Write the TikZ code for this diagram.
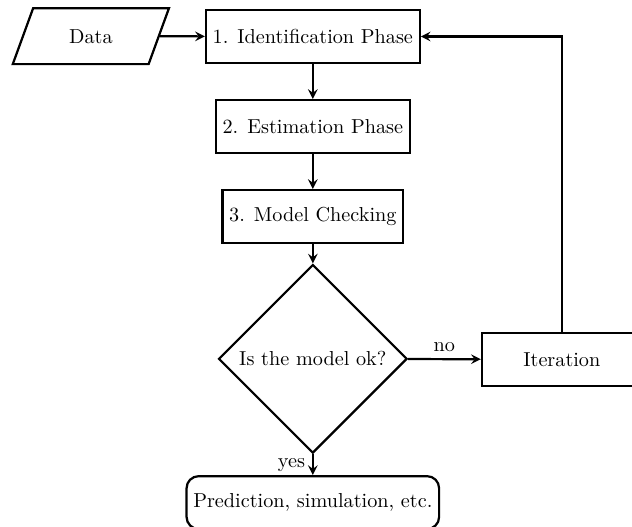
\documentclass[tikz,border=0pt]{standalone}
\usepackage{tikz}
\usetikzlibrary{arrows,shapes.geometric}

\begin{document}
\begin{tikzpicture}[>=stealth,line width=1.1pt,
    box/.style={draw,rectangle,minimum height=0.92cm},
    io/.style={draw,trapezium,trapezium left angle=70,trapezium right angle=110,minimum width=2.7cm,minimum height=0.97cm},
    decide/.style={draw,diamond,aspect=1},
    result/.style={draw,rectangle,rounded corners=6pt,minimum height=0.92cm}]
  \useasboundingbox (0,0) rectangle (10.99,-9.148);
  \node (data) at (1.58,-0.63) [io] {Data};
  \node (ident) at (5.44,-0.635) [box] {1. Identification Phase};
  \node (estim) at (5.44,-2.2) [box] {2. Estimation Phase};
  \node (check) at (5.44,-3.765) [box] {3. Model Checking};
  \node (ok) at (5.44,-6.24) [decide] {Is the model ok?};
  \node (iter) at (9.77,-6.25) [box,minimum width=2.78cm] {Iteration};
  \node (pred) at (5.44,-8.74) [result] {Prediction, simulation, etc.};
  \draw[->] (data) edge (ident);
  \draw[->] (ident) edge (estim);
  \draw[->] (estim) edge (check);
  \draw[->] (check) edge (ok);
  \draw[->] (ok) edge node[above] {no} (iter);
  \draw[->] (ok) edge node[left] {yes} (pred);
  \draw[->] (iter) |- (ident);
\end{tikzpicture}
\end{document}
